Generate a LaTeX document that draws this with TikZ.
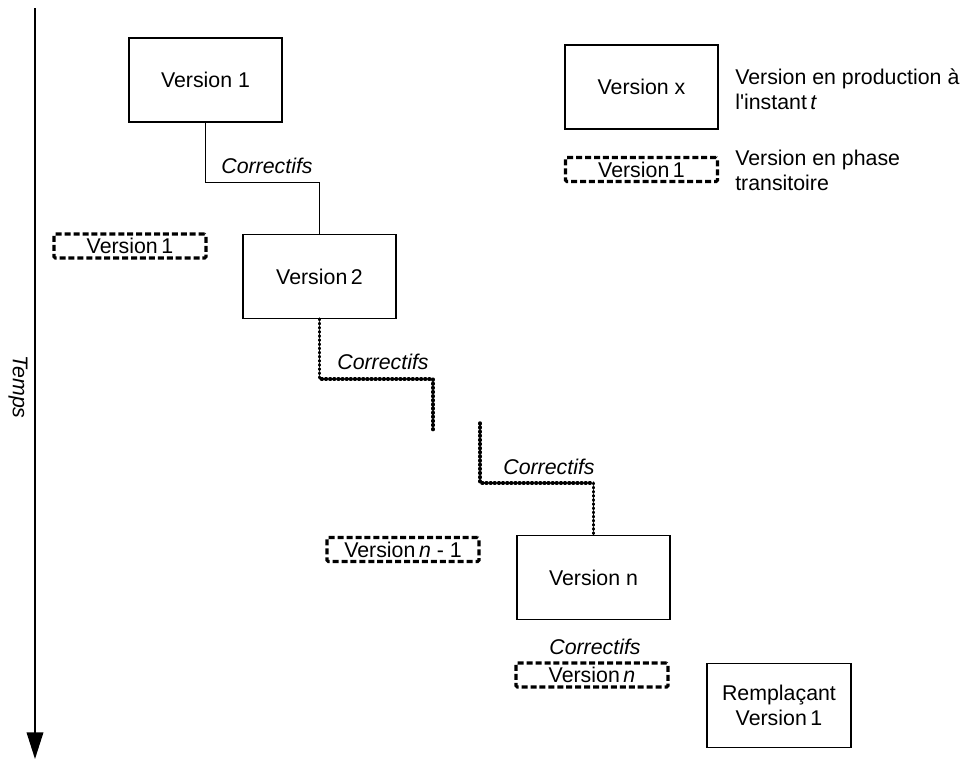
\documentclass[tikz,border=0pt]{standalone}
\usepackage{fontspec}
\setmainfont{Liberation Sans}
\usetikzlibrary{arrows.meta}
\begin{document}
\begin{tikzpicture}[x=0.75pt,y=-0.75pt,
    font=\fontsize{16}{18.75}\selectfont,
    prod/.style={draw,line width=0.9pt,minimum width=114.75pt,minimum height=63pt,inner sep=0pt},
    trans/.style={draw,line width=2.3pt,dash pattern=on 4.5pt off 2.2pt,
      rounded corners=1pt,minimum width=114pt,minimum height=18pt,inner sep=0pt},
    patch/.style={font=\fontsize{16}{18.75}\selectfont\itshape},
    hotfix/.style={line width=2.6pt,line cap=round,dash pattern=on 0.6pt off 2.5pt}]
      \useasboundingbox (0,0) rectangle (974,760);
      % time axis
      \coordinate (t0) at (35,8);
      \coordinate (t1) at (35,759);
      \draw[line width=1.1pt,-{Triangle[length=20pt,width=12.5pt]}] (t0) -- (t1);
      \node[rotate=-90,font=\fontsize{16}{18.75}\selectfont\itshape] (temps) at (18,387) {Temps};
      % versions
      \draw
        (205.5,80) node[prod] (v1){Version 1}
        (319.5,276.5) node[prod] (v2){Version\,2}
        (593.5,577.5) node[prod] (vn){Version n}
        (779,705.5) node[prod,minimum width=108pt,align=center] (remp){Remplaçant\\Version\,1};
      \draw
        (130,246) node[trans] (old1){Version\,1}
        (403,549.5) node[trans] (oldnm1){Version\,\textit{n} - 1}
        (592,675) node[trans] (oldn){Version\,\textit{n}};
      % corrective releases
      \node[patch] (c1) at (267,166) {Correctifs};
      \node[patch] (c2) at (383,362) {Correctifs};
      \node[patch] (c3) at (549,467) {Correctifs};
      \node[patch] (c4) at (595,647) {Correctifs};
      \coordinate (e1) at (433,430);
      \coordinate (s2) at (480,423);
      \draw[line width=0.9pt] (v1.south) -- ++(0,60) -| (v2.north);
      \draw[hotfix] (v2.south) -- ++(0,60) -| (e1);
      \draw[hotfix] (s2) -- ++(0,60) -| (vn.north);
      % legend
      \node[prod] (legprod) at (641.5,87) {Version x};
      \node[trans] (legtrans) at (641.5,169.5) {Version\,1};
      \node[anchor=west,align=left,inner sep=0pt] (txtprod) at (735,89.5)
        {Version en production à\\l\textquotesingle instant\,\textit{t}};
      \node[anchor=west,align=left,inner sep=0pt] (txttrans) at (735,170)
        {Version en phase\\transitoire};
    \end{tikzpicture}
\end{document}
